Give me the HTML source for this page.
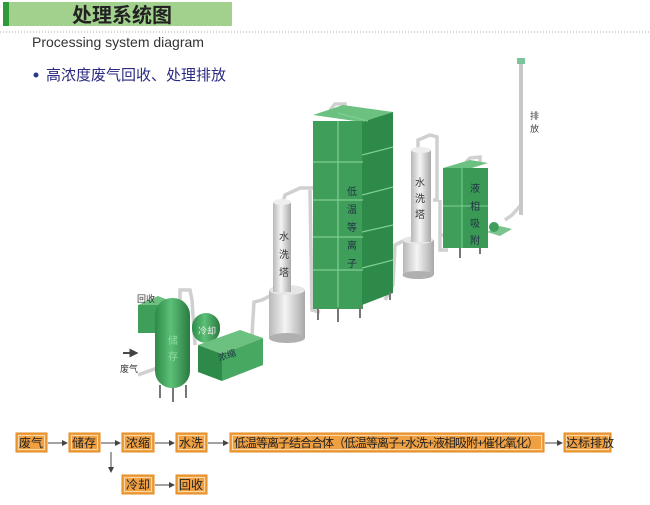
<!DOCTYPE html>
<html><head><meta charset="utf-8"><style>
body{margin:0;background:#fff;width:650px;height:500px;overflow:hidden;font-family:"Liberation Sans","Noto Sans CJK SC",sans-serif}
</style></head><body>
<svg width="650" height="500" viewBox="0 0 650 500" xmlns="http://www.w3.org/2000/svg" font-family="Liberation Sans, Noto Sans CJK SC, sans-serif">
<defs>
<linearGradient id="cyl" x1="0" x2="1"><stop offset="0" stop-color="#b8b8b8"/><stop offset="0.45" stop-color="#f4f4f4"/><stop offset="1" stop-color="#a8a8a8"/></linearGradient>
<linearGradient id="gcyl" x1="0" x2="1"><stop offset="0" stop-color="#2f8a4a"/><stop offset="0.45" stop-color="#5cc077"/><stop offset="1" stop-color="#2a7a40"/></linearGradient>
<marker id="ar" markerWidth="6" markerHeight="6" refX="5" refY="3" orient="auto"><path d="M0,0 L6,3 L0,6z" fill="#444"/></marker>
</defs>
<!-- header -->
<rect x="3" y="2" width="229" height="24" fill="#a2d18e"/>
<rect x="3" y="2" width="6" height="24" fill="#2f9a3a"/>
<text x="122" y="22" font-size="20" text-anchor="middle" fill="#222" font-weight="bold">处理系统图</text>
<line x1="0" y1="32" x2="650" y2="32" stroke="#aaa" stroke-dasharray="1,2"/>
<text x="32" y="47" font-size="14" fill="#333">Processing system diagram</text>
<circle cx="36" cy="75" r="2.5" fill="#2a3a8a"/>
<text x="46" y="80" font-size="15" fill="#2a2a80">高浓度废气回收、处理排放</text>

<!-- pipes -->
<g fill="none" stroke="#d0d0d0" stroke-width="3.5">
<path d="M521,62 L521,205 L512,215 L505,220"/>
<path d="M480,232 L468,235 L440,235"/>
<path d="M433,200 L437,200 L437,137 L430,135 L418,140 L418,150"/>
<path d="M480,162 L480,157 L470,158 L466,162"/>
<path d="M448,250 L440,250 L440,200"/>
<path d="M405,240 L395,245 L393,285 L385,300"/>
<path d="M345,115 L345,104 L335,104 L330,110"/>
<path d="M313,188 L300,188 L285,195 L283,202"/>
<path d="M310,190 L312,310 L320,312"/>
<path d="M272,295 L262,300 L254,302 L252,335"/>
<path d="M180,300 L180,290 L190,290 L192,300 L195,345"/>
<path d="M138,375 L160,367"/>
</g>
<!-- stack -->
<rect x="519" y="62" width="4" height="153" fill="#c8c8c8"/>
<rect x="517" y="58" width="8" height="6" fill="#7cc49a"/>
<text x="530" y="119" font-size="9" fill="#444">排</text>
<text x="530" y="132" font-size="9" fill="#444">放</text>

<!-- plasma block -->
<g>
<polygon points="313,115 343,105 393,112 362,122" fill="#6cc080"/>
<rect x="313" y="121" width="50" height="188" fill="#3f9e5a"/>
<polygon points="362,122 393,112 393,293 362,305" fill="#2e8a48"/>
<g stroke="#7fcf92" stroke-width="1.2">
<line x1="313" y1="162" x2="363" y2="162"/><line x1="313" y1="200" x2="363" y2="200"/>
<line x1="313" y1="237" x2="363" y2="237"/><line x1="313" y1="270" x2="363" y2="270"/>
<line x1="362" y1="155" x2="393" y2="147"/><line x1="362" y1="195" x2="393" y2="187"/>
<line x1="362" y1="232" x2="393" y2="225"/><line x1="362" y1="268" x2="393" y2="260"/>
<line x1="338" y1="113" x2="368" y2="121"/><line x1="338" y1="121" x2="338" y2="307"/>
</g>
<g stroke="#777" stroke-width="2"><line x1="318" y1="308" x2="318" y2="320"/><line x1="338" y1="308" x2="338" y2="322"/><line x1="360" y1="305" x2="360" y2="318"/><line x1="390" y1="292" x2="390" y2="300"/></g>
<g font-size="10" fill="#234" text-anchor="middle"><text x="352" y="195">低</text><text x="352" y="213">温</text><text x="352" y="231">等</text><text x="352" y="249">离</text><text x="352" y="267">子</text></g>
</g>

<!-- wash tower 1 -->
<rect x="269" y="290" width="36" height="48" fill="url(#cyl)"/>
<ellipse cx="287" cy="338" rx="18" ry="5" fill="#b0b0b0"/>
<ellipse cx="287" cy="290" rx="18" ry="5" fill="#e6e6e6"/>
<rect x="273" y="202" width="18" height="90" fill="url(#cyl)"/>
<ellipse cx="282" cy="202" rx="9" ry="3" fill="#eee"/>
<g font-size="10" fill="#333" text-anchor="middle"><text x="284" y="240">水</text><text x="284" y="258">洗</text><text x="284" y="276">塔</text></g>

<!-- wash tower 2 -->
<rect x="403" y="240" width="31" height="35" fill="url(#cyl)"/>
<ellipse cx="418" cy="275" rx="15.5" ry="4" fill="#b0b0b0"/>
<ellipse cx="418" cy="240" rx="15.5" ry="4" fill="#e6e6e6"/>
<rect x="411" y="150" width="20" height="92" fill="url(#cyl)"/>
<ellipse cx="421" cy="150" rx="10" ry="3" fill="#eee"/>
<g font-size="10" fill="#333" text-anchor="middle"><text x="420" y="186">水</text><text x="420" y="202">洗</text><text x="420" y="218">塔</text></g>

<!-- liquid adsorb -->
<polygon points="443,168 470,160 488,163 462,171" fill="#6cc080"/>
<rect x="443" y="168" width="20" height="80" fill="#3f9e5a"/>
<rect x="462" y="168" width="26" height="80" fill="#3a9a55"/>
<line x1="443" y1="206" x2="488" y2="206" stroke="#7fcf92"/>
<line x1="462" y1="168" x2="462" y2="248" stroke="#7fcf92"/>
<g stroke="#777" stroke-width="2"><line x1="460" y1="248" x2="460" y2="258"/><line x1="480" y1="248" x2="480" y2="254"/></g>
<g font-size="10" fill="#234" text-anchor="middle"><text x="475" y="192">液</text><text x="475" y="210">相</text><text x="475" y="227">吸</text><text x="475" y="244">附</text></g>
<!-- fan -->
<polygon points="487,232 500,226 512,229 500,236" fill="#7cc48e"/>
<circle cx="494" cy="227" r="5" fill="#3f9e5a"/>

<!-- recovery box -->
<polygon points="138,305 158,296 168,300 150,310" fill="#6cc080"/>
<rect x="138" y="305" width="28" height="28" fill="#3f9e5a"/>
<text x="137" y="302" font-size="9" fill="#333">回收</text>
<!-- cooling cylinder -->
<rect x="192" y="313" width="28" height="30" rx="14" fill="url(#gcyl)"/>
<text x="198" y="334" font-size="9" fill="#eee">冷却</text>
<!-- concentrate box -->
<polygon points="198,345 240,330 263,338 222,354" fill="#6cc080"/>
<polygon points="198,345 222,354 222,381 198,372" fill="#2e8a48"/>
<polygon points="222,354 263,338 263,365 222,381" fill="#47a862"/>
<text x="218" y="358" font-size="9" fill="#234" transform="rotate(-18 228 355)">浓缩</text>
<!-- storage vessel -->
<rect x="155" y="298" width="35" height="90" rx="17" fill="url(#gcyl)"/>
<g stroke="#777" stroke-width="2"><line x1="160" y1="385" x2="160" y2="398"/><line x1="173" y1="388" x2="173" y2="402"/><line x1="186" y1="385" x2="186" y2="398"/></g>
<g font-size="10" fill="#8ddb9d" text-anchor="middle"><text x="173" y="344">储</text><text x="173" y="360">存</text></g>
<!-- inlet -->
<line x1="123" y1="353" x2="137" y2="353" stroke="#111" stroke-width="1.5" marker-end="url(#ar)"/>
<text x="120" y="372" font-size="9" fill="#333">废气</text>

<!-- flow chart -->
<g font-size="12" fill="#222">
<g fill="#f0a040" stroke="#e08a20">
<rect x="16" y="433" width="31" height="19"/><rect x="69" y="433" width="31" height="19"/>
<rect x="122" y="433" width="32" height="19"/><rect x="176" y="433" width="31" height="19"/>
<rect x="230" y="433" width="314" height="19"/><rect x="564" y="433" width="47" height="19"/>
<rect x="122" y="475" width="32" height="19"/><rect x="176" y="475" width="31" height="19"/>
</g>
<g fill="none" stroke="#f8d8a8" stroke-width="1">
<rect x="18.5" y="435.5" width="26" height="14"/><rect x="71.5" y="435.5" width="26" height="14"/>
<rect x="124.5" y="435.5" width="27" height="14"/><rect x="178.5" y="435.5" width="26" height="14"/>
<rect x="232.5" y="435.5" width="309" height="14"/><rect x="566.5" y="435.5" width="42" height="14"/>
<rect x="124.5" y="477.5" width="27" height="14"/><rect x="178.5" y="477.5" width="26" height="14"/>
</g>
<text x="19" y="447">废气</text><text x="72" y="447">储存</text><text x="126" y="447">浓缩</text><text x="179" y="447">水洗</text>
<text x="234" y="447" textLength="305">低温等离子结合合体（低温等离子+水洗+液相吸附+催化氧化）</text>
<text x="566" y="447">达标排放</text>
<text x="126" y="489">冷却</text><text x="179" y="489">回收</text>
<g stroke="#444" stroke-width="1" marker-end="url(#ar)">
<line x1="48" y1="443" x2="67" y2="443"/><line x1="101" y1="443" x2="120" y2="443"/>
<line x1="155" y1="443" x2="174" y2="443"/><line x1="208" y1="443" x2="228" y2="443"/>
<line x1="545" y1="443" x2="562" y2="443"/><line x1="155" y1="485" x2="174" y2="485"/>
<line x1="111" y1="452" x2="111" y2="472"/>
</g>
</g>
</svg>
</body></html>
